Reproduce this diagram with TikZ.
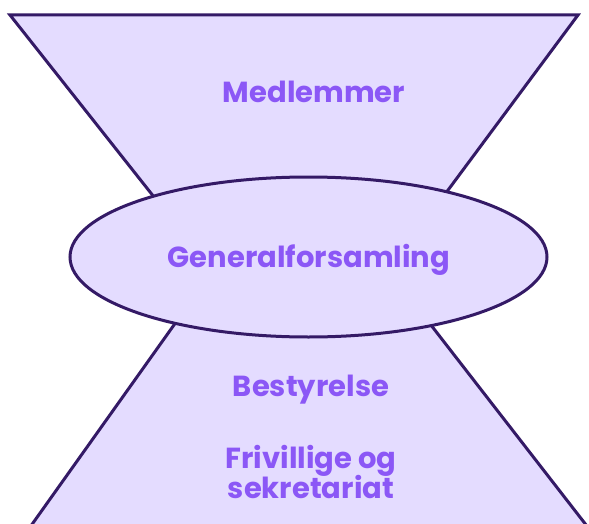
\documentclass[tikz,border=0pt]{standalone}
\usepackage{fontspec}
\setmainfont{Poppins}
\definecolor{shapefill}{HTML}{E4DCFF}
\definecolor{shapeline}{HTML}{341A66}
\definecolor{labeltext}{HTML}{8B57F6}
\tikzset{
  funnel/.style={fill=shapefill, draw=shapeline, line width=3pt, line join=miter},
  lbl/.style={text=labeltext, font=\fontsize{29}{30}\selectfont\bfseries, align=center, inner sep=0pt, anchor=base},
}
\begin{document}
\begin{tikzpicture}[x=1pt,y=-1pt]
\useasboundingbox (0,0) rectangle (589,524);
\clip (0,0) rectangle (589,524);
% top trapezoid
\draw[funnel] (10,15) -- (578,15) -- (411,240) -- (188,240) -- cycle;
% bottom trapezoid
\draw[funnel] (206,280) -- (396,280) -- (590,530) -- (28,530) -- cycle;
% ellipse
\coordinate (gac) at (308.5,257);
\draw[funnel] (gac) ellipse [x radius=238.5, y radius=80];
\node[lbl] (medl) at (314,103) {Medlemmer};
\node[lbl] (gen) at (309,267) {Generalforsamling};
\node[lbl] (best) at (311,396) {Bestyrelse};
\node[lbl] (friv) at (311,468) {Frivillige og};
\node[lbl] (sekr) at (311,498) {sekretariat};
\end{tikzpicture}
\end{document}
